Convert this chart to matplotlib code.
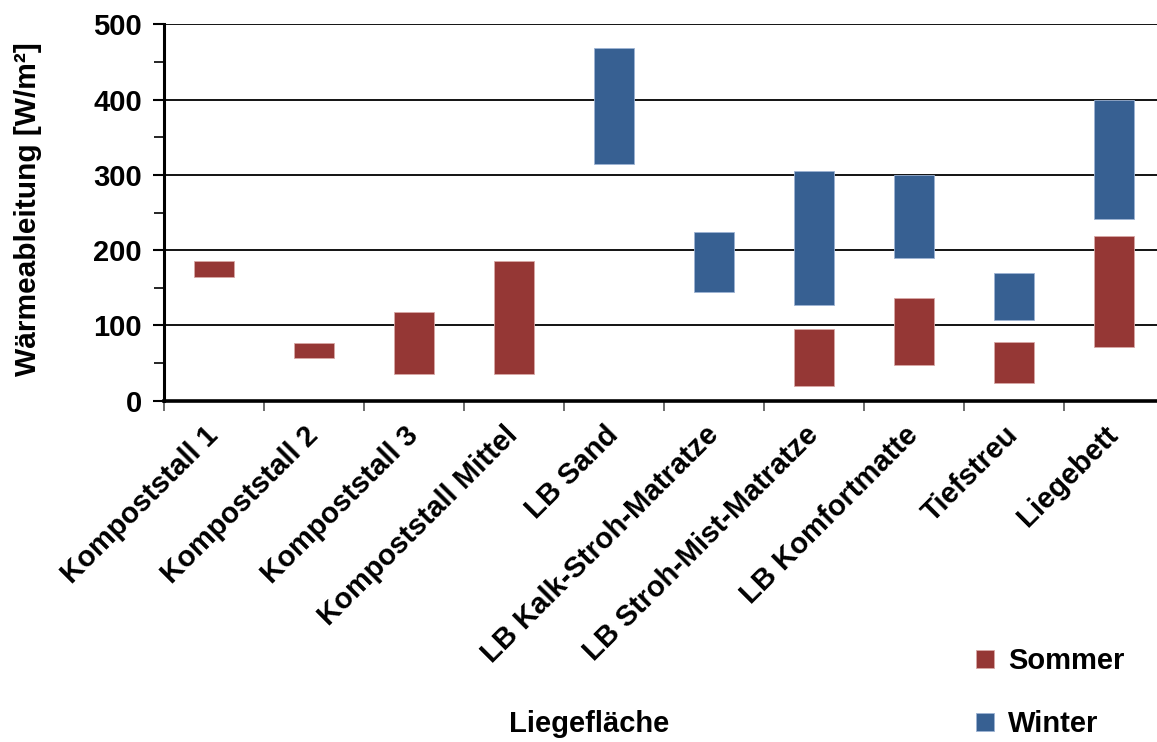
import numpy as np
import matplotlib
matplotlib.use("Agg")
import matplotlib.pyplot as plt
from matplotlib.ticker import MultipleLocator
from matplotlib.transforms import ScaledTranslation

categories = ["Kompoststall 1", "Kompoststall 2", "Kompoststall 3",
              "Kompoststall Mittel", "LB Sand", "LB Kalk-Stroh-Matratze",
              "LB Stroh-Mist-Matratze", "LB Komfortmatte", "Tiefstreu", "Liegebett"]

# Range of heat dissipation [W/m²] per bedding: lower and upper bound
sommer_low = [164, 57, 35, 35, np.nan, np.nan, 20, 47, 23, 71]
sommer_high = [186, 77, 118, 186, np.nan, np.nan, 95, 137, 78, 219]
winter_low = [np.nan, np.nan, np.nan, np.nan, 314, 145, 127, 189, 107, 241]
winter_high = [np.nan, np.nan, np.nan, np.nan, 469, 224, 305, 300, 170, 400]

y_ticks = [0, 100, 200, 300, 400, 500]

col_sommer = "#953735"
col_winter = "#376092"

plt.rcParams["font.family"] = ["Liberation Sans", "DejaVu Sans"]
plt.rcParams["font.weight"] = "bold"
FS = 21

fig = plt.figure(figsize=(11.57, 7.42), dpi=100)
ax = fig.add_axes([164 / 1157, 1 - 400.7 / 742, 1000 / 1157, 376.4 / 742])

x = np.arange(len(categories))
sl, sh = np.array(sommer_low), np.array(sommer_high)
wl, wh = np.array(winter_low), np.array(winter_high)

ax.bar(x, sh - sl, bottom=sl, width=0.4, color=col_sommer,
       edgecolor="#d8a8a6", linewidth=0.6, label="Sommer", zorder=3)
ax.bar(x, wh - wl, bottom=wl, width=0.4, color=col_winter,
       edgecolor="#9db3d3", linewidth=0.6, label="Winter", zorder=3)

ax.set_xlim(-0.5, len(categories) - 0.5)
ax.set_ylim(0, 500)
ax.set_yticks(y_ticks)
ax.yaxis.set_minor_locator(MultipleLocator(50))
ax.grid(axis="y", which="major", color="black", linewidth=1.3, zorder=0)
ax.set_axisbelow(True)

# category boundaries carry the x ticks, labels sit at the centres
ax.set_xticks(np.arange(len(categories) + 1) - 0.5)
ax.set_xticklabels([])
ax.tick_params(axis="x", which="major", direction="out", length=7,
               width=1.2, color="#555555")
ax.set_xticks(x, minor=True)
ax.set_xticklabels(categories, minor=True, rotation=45, ha="right",
                   va="top", rotation_mode="anchor", fontsize=FS,
                   fontweight="bold")
ax.tick_params(axis="x", which="minor", length=0, pad=16)
shift = ScaledTranslation(-10 / 100, 2 / 100, fig.dpi_scale_trans)
for lab in ax.get_xticklabels(minor=True):
    lab.set_transform(lab.get_transform() + shift)

ax.tick_params(axis="y", which="major", direction="out", length=8,
               width=1.5, labelsize=FS, pad=8)
ax.tick_params(axis="y", which="minor", direction="out", length=7, width=1.2)
for lab in ax.get_yticklabels():
    lab.set_fontweight("bold")

for side in ("top", "right"):
    ax.spines[side].set_visible(False)
ax.spines["left"].set_linewidth(2.2)
ax.spines["bottom"].set_linewidth(2.6)

ax.set_ylabel("Wärmeableitung [W/m²]", fontsize=21.5, fontweight="bold")
ax.yaxis.set_label_coords(-0.122, 0.509)
ax.set_xlabel("Liegefläche", fontsize=FS, fontweight="bold")
ax.xaxis.set_label_coords(0.425, -0.822)

fig.legend(loc="upper left", bbox_to_anchor=(950 / 1157, 1 - 621 / 742),
           frameon=False, handlelength=0.6, handleheight=0.6,
           handletextpad=0.5, labelspacing=1.2,
           prop={"weight": "bold", "size": FS})

fig.savefig("out.png", dpi=100)
